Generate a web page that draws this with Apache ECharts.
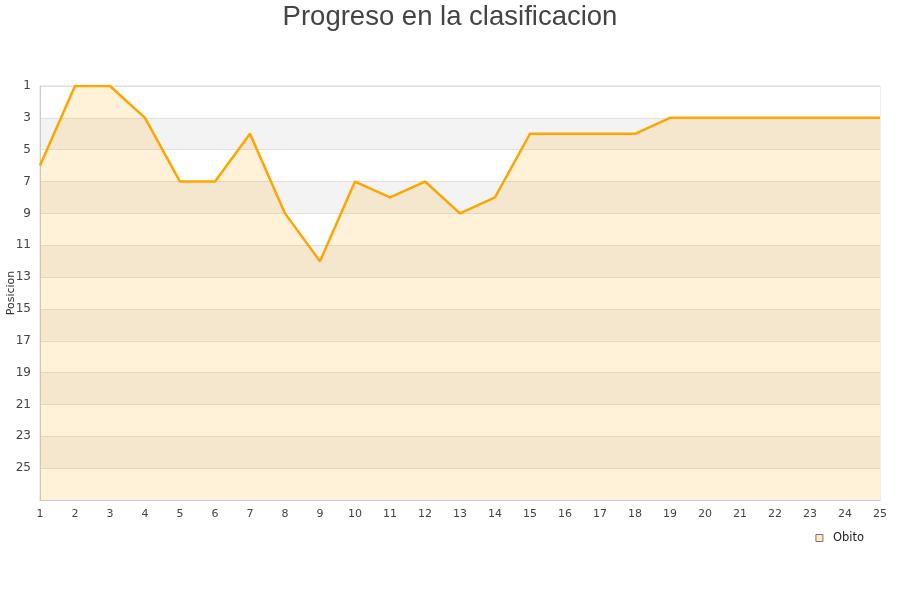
<!DOCTYPE html>
<html><head><meta charset="utf-8">
<script src="https://cdn.jsdelivr.net/npm/echarts@6/dist/echarts.min.js"></script>
<style>html,body{margin:0;padding:0;background:#fff}#c{width:900px;height:600px}</style>
</head><body><div id="c"></div>
<script>
const jornadas = ['1','2','3','4','5','6','7','8','9','10','11','12','13','14','15','16','17','18','19','20','21','22','23','24','25'];
const posiciones = [6,1,1,3,7,7,4,9,12,7,8,7,9,8,4,4,4,4,3,3,3,3,3,3,3];
const seriesName = 'Obito';
const chart = echarts.init(document.getElementById('c'));
chart.setOption({
  animation:false,
  title:{text:'Progreso en la clasificacion',left:'center',top:-2,textStyle:{fontFamily:'Liberation Sans',fontSize:27.5,fontWeight:'normal',color:'#444'}},
  grid:{left:40,right:20,top:86,bottom:100,containLabel:false,outerBoundsMode:'none'},
  legend:{data:[{name:seriesName,icon:'rect',itemStyle:{color:'#fde9c4',borderColor:'#777',borderWidth:1}}],right:31,top:527,itemWidth:7,itemHeight:7,
    textStyle:{fontFamily:'DejaVu Sans',fontSize:11.5,color:'#222',padding:[0,0,0,5]}},
  xAxis:{type:'category',data:jornadas,boundaryGap:false,
    axisLine:{lineStyle:{color:'#ccc'}},axisTick:{show:false},
    axisLabel:{fontFamily:'DejaVu Sans',fontSize:11,color:'#444',margin:9,interval:0},
    splitLine:{show:false}},
  yAxis:{type:'value',inverse:true,min:1,max:27,interval:2,name:'Posicion',nameLocation:'middle',nameGap:23,nameMoveOverlap:false,
    nameTextStyle:{fontFamily:'DejaVu Sans',fontSize:11,color:'#333'},
    axisLine:{show:true,lineStyle:{color:'#ccc'}},axisTick:{show:false},
    axisLabel:{fontFamily:'DejaVu Sans',fontSize:12,color:'#444',margin:9,showMaxLabel:false,verticalAlign:'middle',padding:[2,0,0,0]},
    splitLine:{show:true,lineStyle:{color:'#e0e0e0'}},
    splitArea:{show:true,areaStyle:{color:['#ffffff','#f3f3f3']}}},
  series:[{name:seriesName,type:'line',data:posiciones,symbol:'none',
    itemStyle:{color:'#ffa500'},
    lineStyle:{color:'#ffa500',width:2.5},
    areaStyle:{color:'rgba(255,165,0,0.21)',origin:'end'}}],
  graphic:[{type:'rect',shape:{x:40,y:86,width:840,height:414},style:{fill:'none',stroke:'#ddd',lineWidth:1},z:-1}]
});
</script></body></html>
